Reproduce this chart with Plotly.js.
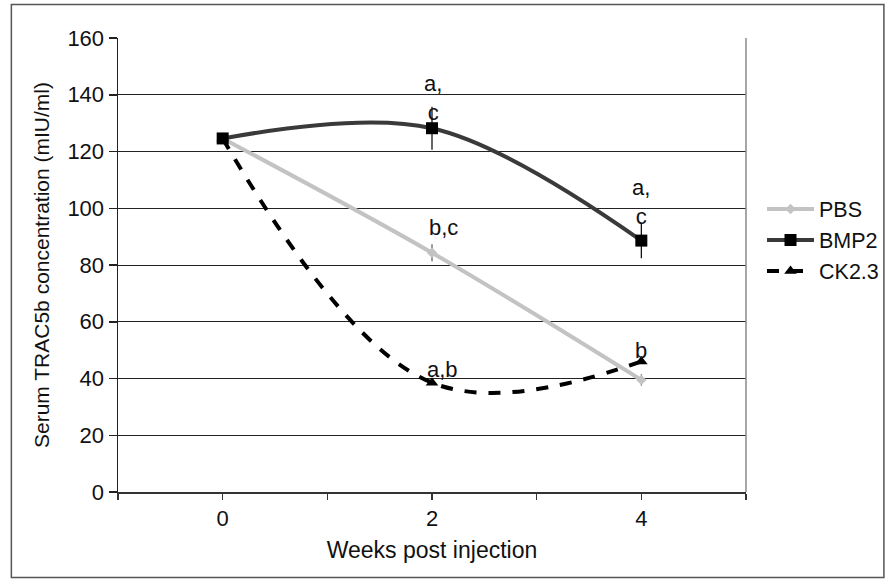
<!DOCTYPE html>
<html>
<head>
<meta charset="utf-8">
<script src="https://cdn.plot.ly/plotly-3.0.1.min.js"></script>
<style>html,body{margin:0;padding:0;background:#fff;}#chart{width:892px;height:586px;}</style>
</head>
<body>
<div id="chart"></div>
<script>
// Data
const weeks = [0, 2, 4];
const seriesNames = ["PBS", "BMP2", "CK2.3"];
const pbs = [124.6, 84.3, 39.5];
const pbsErr = [0, 3, 2];
const bmp2 = [124.6, 128.2, 88.6];
const bmp2Err = [0, 7.6, 6.2];
const ck23 = [124.6, 38.5, 46];
const ck23Err = [0, 0, 0];
const xTickVals = [-1, 0, 1, 2, 3, 4, 5];
const xTickText = ["", "0", "", "2", "", "4", ""];
const yTickVals = [0, 20, 40, 60, 80, 100, 120, 140, 160];
// significance letters: [series, week index, text]
const sigSeries = ["BMP2", "BMP2", "PBS", "CK2.3", "CK2.3"];
const sigWeekIdx = [1, 2, 1, 1, 2];
const sigText = ["a,<br>c", "a,<br>c", "b,c", "a,b", "b"];

const FONT = "Liberation Sans, Arial, sans-serif";
const valuesByName = {"PBS": pbs, "BMP2": bmp2, "CK2.3": ck23};

const traces = [
  {
    x: weeks, y: pbs, name: seriesNames[0], type: "scatter", mode: "lines+markers",
    line: {color: "#c3c3c3", width: 4, shape: "spline", smoothing: 1},
    marker: {symbol: "diamond", size: 8, color: "#c3c3c3"},
    error_y: {type: "data", array: pbsErr, visible: true, color: "#333", thickness: 1, width: 0}
  },
  {
    x: weeks, y: bmp2, name: seriesNames[1], type: "scatter", mode: "lines+markers",
    line: {color: "#3a3a3a", width: 4, shape: "spline", smoothing: 1},
    marker: {symbol: "square", size: 12, color: "#000"},
    error_y: {type: "data", array: bmp2Err, visible: true, color: "#000", thickness: 1.2, width: 0}
  },
  {
    x: weeks, y: ck23, name: seriesNames[2], type: "scatter", mode: "lines+markers",
    line: {color: "#000", width: 4, dash: "dash", shape: "spline", smoothing: 1.1},
    marker: {symbol: "triangle-up", size: 11, color: "#000"},
    error_y: {type: "data", array: ck23Err, visible: false}
  }
];

// label offsets (pixels) for the letters above points
const sigYShift = [30, 39, 25, 13, 11];
const sigXShift = [1, 0, 11, 10, 0];
const annotations = sigText.map((t, i) => ({
  x: weeks[sigWeekIdx[i]], y: valuesByName[sigSeries[i]][sigWeekIdx[i]],
  xref: "x", yref: "y", text: t, showarrow: false,
  yanchor: "middle", xanchor: "center",
  yshift: sigYShift[i], xshift: sigXShift[i],
  font: {family: FONT, size: 22, color: "#111"}
}));

const layout = {
  width: 892, height: 586,
  margin: {l: 118, r: 146, t: 38, b: 94, autoexpand: false},
  paper_bgcolor: "#fff", plot_bgcolor: "#fff",
  font: {family: FONT, size: 22, color: "#111"},
  showlegend: true,
  legend: {x: 1.0255, y: 0.555, xanchor: "left", yanchor: "middle",
           font: {family: FONT, size: 21.5, color: "#111"}, itemwidth: 47,
           tracegroupgap: 0, bgcolor: "rgba(0,0,0,0)"},
  xaxis: {
    range: [-1, 5], tickvals: xTickVals, ticktext: xTickText,
    showgrid: false, zeroline: false, showline: true, linecolor: "#333", linewidth: 1.5,
    ticks: "outside", ticklen: 6, tickcolor: "#333", tickwidth: 1.5,
    tickfont: {family: FONT, size: 22, color: "#111"},
    title: {text: "Weeks post injection", font: {family: FONT, size: 23, color: "#111"}, standoff: 12}
  },
  yaxis: {
    range: [0, 160], tickvals: yTickVals,
    showgrid: true, gridcolor: "#222", gridwidth: 1, zeroline: false,
    showline: true, linecolor: "#222", linewidth: 1.5,
    ticks: "outside", ticklen: 8, tickcolor: "#222", tickwidth: 1.5,
    tickfont: {family: FONT, size: 22, color: "#111"},
    title: {text: "Serum TRAC5b concentration (mIU/ml)", font: {family: FONT, size: 21, color: "#111"}, standoff: 12}
  },
  shapes: [
    {type: "line", xref: "paper", yref: "paper", x0: 1, x1: 1, y0: 0, y1: 1,
     line: {color: "#8a8a8a", width: 1.5}},
    {type: "rect", xref: "paper", yref: "paper", x0: -0.1698, x1: 1.2196, y0: -0.1886, y1: 1.0737,
     line: {color: "#555", width: 1.5}, fillcolor: "rgba(0,0,0,0)"}
  ],
  annotations: annotations
};

Plotly.newPlot("chart", traces, layout, {displayModeBar: false, staticPlot: true});
</script>
</body>
</html>
